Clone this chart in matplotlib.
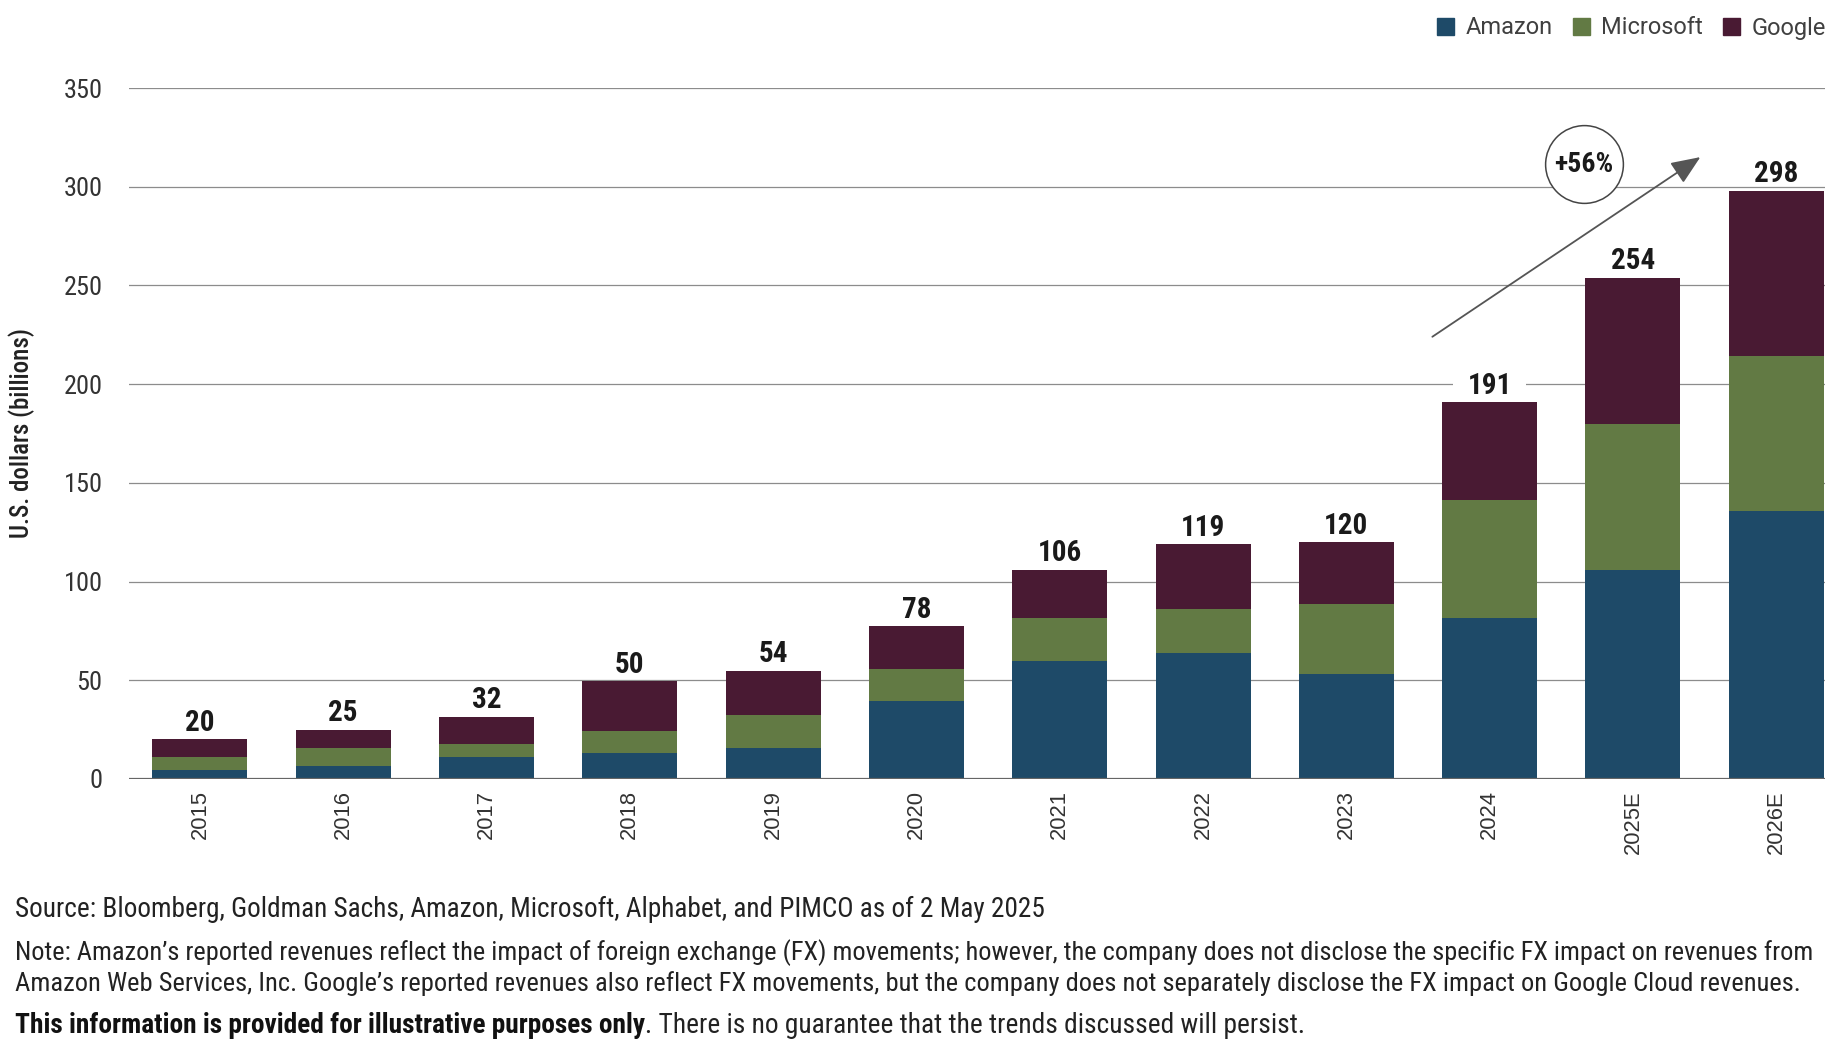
import matplotlib
matplotlib.use('Agg')
import matplotlib.pyplot as plt
from matplotlib import font_manager
from matplotlib.patches import Patch
import numpy as np

# data (U.S. dollars, billions)
years = ['2015', '2016', '2017', '2018', '2019', '2020', '2021', '2022', '2023', '2024', '2025E', '2026E']
amazon = [4.6, 6.6, 11.1, 13.3, 15.8, 39.5, 59.8, 63.9, 53.0, 81.4, 105.8, 135.7]
microsoft = [6.5, 8.9, 6.8, 11.2, 16.4, 16.0, 21.8, 22.3, 35.4, 59.7, 73.9, 78.4]
google = [9.0, 9.5, 13.6, 25.0, 22.6, 22.0, 24.4, 32.8, 31.6, 49.9, 74.3, 83.9]
totals = [20, 25, 32, 50, 54, 78, 106, 119, 120, 191, 254, 298]
growth_label = '+56%'

source = 'Source: Bloomberg, Goldman Sachs, Amazon, Microsoft, Alphabet, and PIMCO as of 2 May 2025'
note1 = ('Note: Amazon\u2019s reported revenues reflect the impact of foreign exchange (FX) movements; '
         'however, the company does not disclose the specific FX impact on revenues from')
note2 = ('Amazon Web Services, Inc. Google\u2019s reported revenues also reflect FX movements, '
         'but the company does not separately disclose the FX impact on Google Cloud revenues.')
disc_bold = 'This information is provided for illustrative purposes only'
disc_rest = '. There is no guarantee that the trends discussed will persist.'

# colours
c_amz = '#1e4a68'
c_msft = '#627a44'
c_goog = '#491a33'

# pick a narrow font if there is one
installed = {f.name for f in font_manager.fontManager.ttflist}
cond = 'Roboto'
for name in ['Roboto Condensed', 'Liberation Sans Narrow']:
    if name in installed:
        cond = name
        break
arial = 'Liberation Sans'

W, H = 1836, 1058
fig = plt.figure(figsize=(W / 100, H / 100), dpi=100)
ax = fig.add_axes([129 / W, 1 - 779 / H, (1825 - 129) / W, (779 - 88) / H])
r = fig.canvas.get_renderer()


def fit_size(text, width_px, **kw):
    # font size at which the text is width_px wide
    probe = fig.text(0, 0, text, fontsize=16, **kw)
    w = probe.get_window_extent(r).width
    probe.remove()
    return 16 * width_px / w


x = np.arange(len(years))
bw = 0.663
amz = np.array(amazon)
ms = np.array(microsoft)
gg = np.array(google)
ax.bar(x, amz, bw, color=c_amz, zorder=3)
ax.bar(x, ms, bw, bottom=amz, color=c_msft, zorder=3)
ax.bar(x, gg, bw, bottom=amz + ms, color=c_goog, zorder=3)
tops = amz + ms + gg

ax.set_xlim(-0.495, 11.34)
ax.set_ylim(0, 350)
ax.set_yticks(np.arange(0, 351, 50))
ax.yaxis.grid(True, color='#8c8c8c', lw=0.9)
ax.set_axisbelow(True)
ax.axhline(0, color='#666666', lw=1.6, zorder=4)
for s in ax.spines.values():
    s.set_visible(False)

ax.set_xticks(x)
ax.set_xticklabels(years, rotation=90, fontfamily=arial, fontsize=15.8, color='#333333')
ax.tick_params(axis='x', length=0, pad=8)
ax.tick_params(axis='y', length=0, pad=19)
for lab in ax.get_yticklabels():
    lab.set_fontfamily(cond)
    lab.set_fontsize(19)
    lab.set_color('#333333')

ylab = 'U.S. dollars (billions)'
ax.set_ylabel(ylab, fontfamily=cond, fontweight='medium', color='#222222',
              fontsize=fit_size(ylab, 210, fontfamily=cond, fontweight='medium'))
ax.yaxis.set_label_coords(-0.0555, 0.5)

# total labels; the one sitting on a gridline gets a white box
for xi, top, tot in zip(x, tops, totals):
    gap = np.ceil(top / 50) * 50 - top
    box = None
    if 4 < gap < 15:
        box = dict(boxstyle='square,pad=0.5', fc='white', ec='none')
    ax.annotate(str(tot), (xi, top), xytext=(0, 6), textcoords='offset points',
                ha='center', va='baseline', fontfamily=cond, fontweight='bold',
                fontsize=21, color='#1a1a1a', bbox=box, zorder=2)

# growth arrow and circle
ax.annotate('', xy=(10.47, 315), xytext=(8.6, 224),
            arrowprops=dict(arrowstyle='-|>,head_length=0.6,head_width=0.25',
                            color='#555555', lw=1.3, mutation_scale=30, shrinkA=0, shrinkB=0),
            zorder=6, annotation_clip=False)
ax.plot(9.66, 311.5, 'o', ms=56, mfc='white', mec='#444444', mew=1.1, zorder=5, clip_on=False)
ax.text(9.66, 311.5, growth_label, ha='center', va='center', fontfamily=cond,
        fontweight='bold', fontsize=20, color='#1a1a1a', zorder=7)

# legend
handles = [Patch(color=c_amz, label='Amazon'), Patch(color=c_msft, label='Microsoft'),
           Patch(color=c_goog, label='Google')]
leg = fig.legend(handles=handles, loc='center right', bbox_to_anchor=(1826 / W, 1 - 28 / H),
                 ncol=3, frameon=False, handlelength=0.7, handleheight=0.7,
                 handletextpad=0.5, columnspacing=0.85, borderpad=0, borderaxespad=0,
                 prop={'family': 'Roboto', 'size': 17})
for t in leg.get_texts():
    t.set_color('#404040')

# footnotes, each line sized to the width it takes in the chart
left = 15 / W
fs_src = fit_size(source, 1047 - 15, fontfamily=cond)
fs2 = fit_size(note2, 1805 - 15, fontfamily=cond)
fs1 = min(fs2, fit_size(note1, 1822 - 15, fontfamily=cond))

probe_b = fig.text(0, 0, disc_bold, fontsize=16, fontfamily=cond, fontweight='bold')
probe_r = fig.text(0, 0, disc_rest, fontsize=16, fontfamily=cond)
wd = probe_b.get_window_extent(r).width + probe_r.get_window_extent(r).width
probe_b.remove()
probe_r.remove()
fs_d = 16 * (1306 - 15) / wd

fig.text(left, 1 - 917 / H, source, fontfamily=cond, fontsize=fs_src, color='#222222', va='baseline')
fig.text(left, 1 - 960 / H, note1, fontfamily=cond, fontsize=fs1, color='#222222', va='baseline')
fig.text(left, 1 - 991 / H, note2, fontfamily=cond, fontsize=fs2, color='#222222', va='baseline')
tb = fig.text(left, 1 - 1033 / H, disc_bold, fontfamily=cond, fontsize=fs_d, fontweight='bold',
              color='#111111', va='baseline')
bx = tb.get_window_extent(r)
fig.text(bx.x1 / W, 1 - 1033 / H, disc_rest, fontfamily=cond, fontsize=fs_d, color='#222222',
         va='baseline')

fig.savefig('out.png', dpi=100)
